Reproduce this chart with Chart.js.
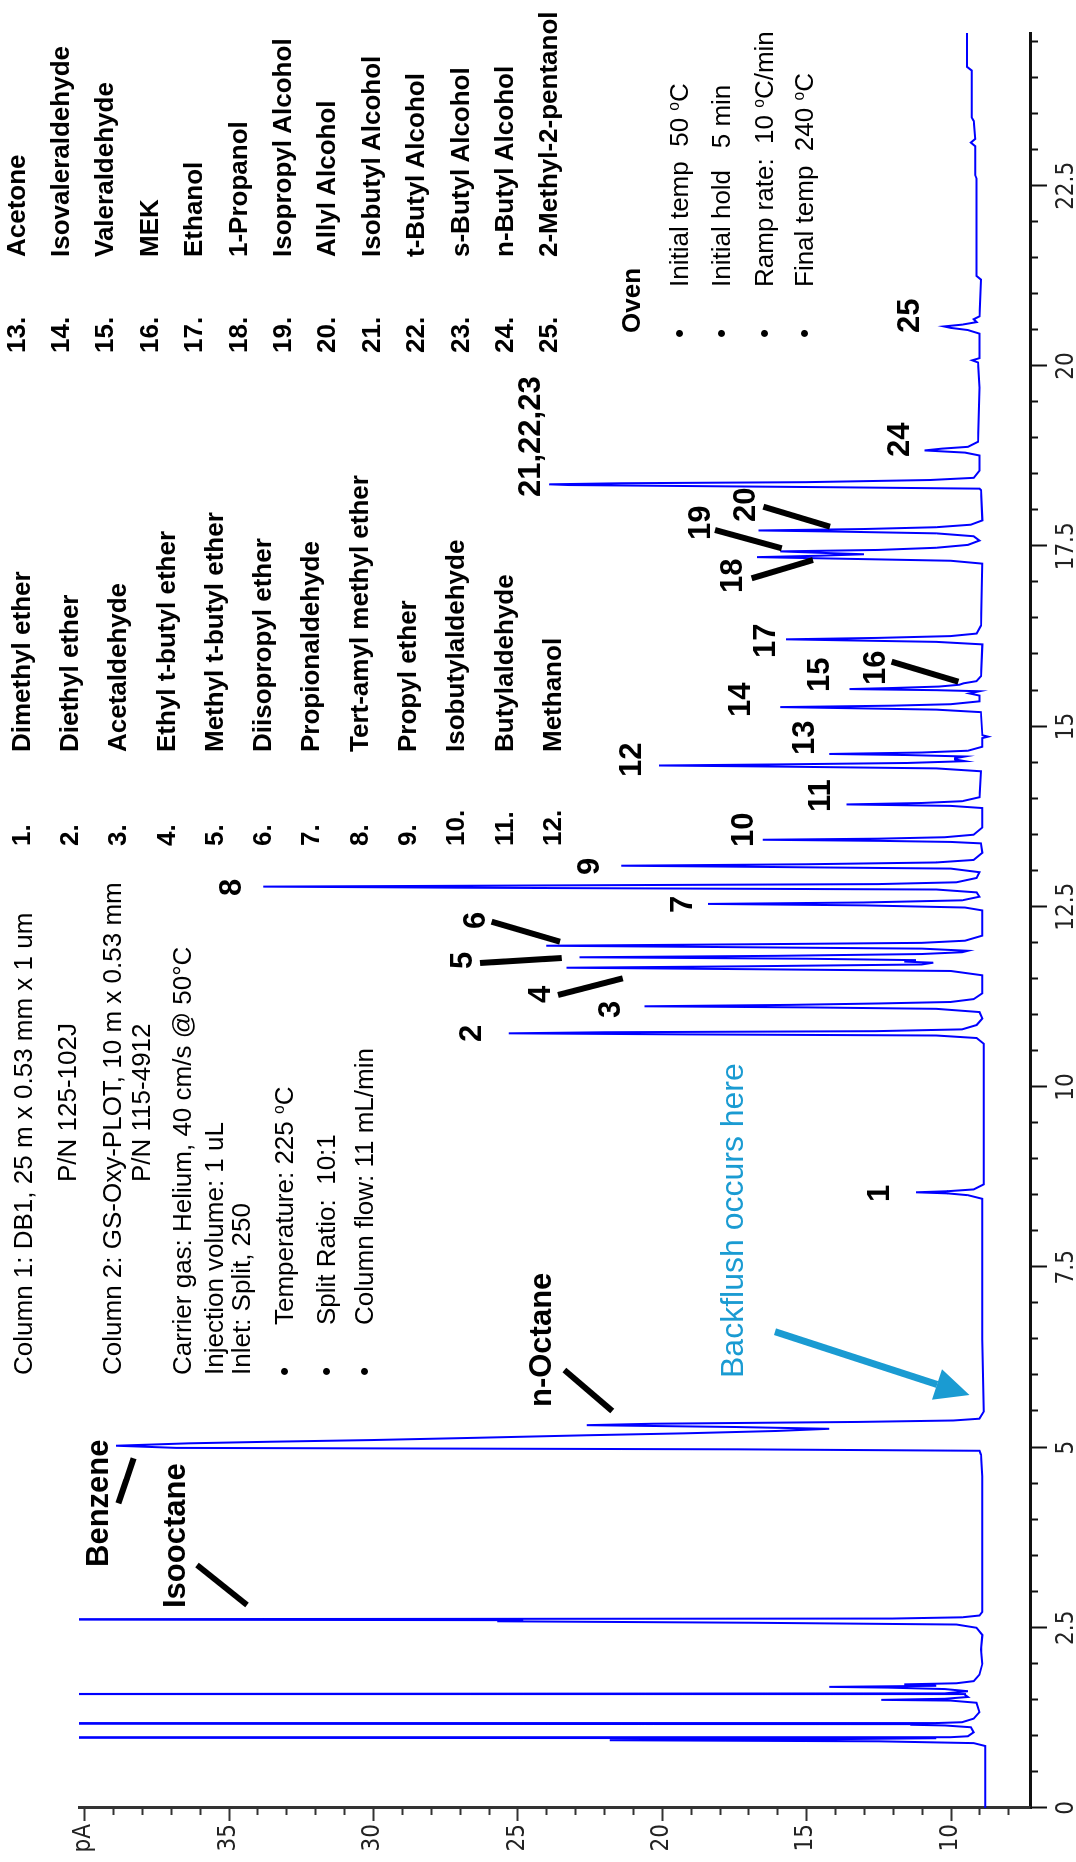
<!DOCTYPE html>
<html>
<head>
<meta charset="utf-8">
<script src="https://cdn.jsdelivr.net/npm/chart.js@4.4.1/dist/chart.umd.min.js"></script>
<style>
html, body { margin: 0; padding: 0; background: #fff; width: 1076px; height: 1862px; overflow: hidden; }
/* the chromatogram is laid out landscape, then turned a quarter turn like the original scan */
#page { position: absolute; left: 0; top: 0; width: 1862px; height: 1076px; transform-origin: 0 0;
        transform: translate(0, 1862px) rotate(-90deg); font-family: "Liberation Sans", Arial, sans-serif; color: #000; }
#page canvas, #page svg { position: absolute; left: 0; top: 0; }
.t { position: absolute; white-space: pre; line-height: 1; }
.b { font-weight: bold; }
.blue { color: #1a9bd2; }
sup { font-size: 0.6em; vertical-align: 0.6em; line-height: 0; }
</style>
</head>
<body>
<div id="page">
  <canvas id="chrom" width="1862" height="1076"></canvas>
  <svg id="marks" width="1862" height="1076"></svg>
</div>
<script>
// ---- trace: [retention time (min), signal (pA)] ----
// light ends + isooctane (column 1 elution)
const segLight = [
    [0, 8.8], [0.86, 8.8], [0.9, 9.2], [0.925, 12.5], [0.94, 21.8], [0.955, 14], [0.968, 10.5],
    [0.975, 48], [0.982, 10], [0.995, 9.4], [1.05, 9.2], [1.12, 9.3], [1.145, 10.2], [1.155, 11.4],
    [1.163, 11.2], [1.17, 48], [1.178, 10.5], [1.19, 9.6], [1.24, 9.2], [1.33, 9.0], [1.46, 9.1],
    [1.49, 10], [1.5, 12.4], [1.515, 10.2], [1.54, 9.4], [1.57, 9.5], [1.58, 48], [1.59, 10.2],
    [1.62, 9.4], [1.65, 10.2], [1.67, 12.2], [1.68, 14.2], [1.695, 10.5], [1.715, 11.6], [1.73, 9.8],
    [1.76, 9.2], [1.85, 9.0], [2.0, 8.9], [2.2, 8.95], [2.4, 8.9], [2.5, 9.1], [2.545, 9.8],
    [2.57, 17], [2.59, 25.7], [2.605, 24.8], [2.617, 48], [2.628, 12], [2.645, 9.6], [2.67, 9.0], [2.72, 8.9]
];
// benzene, n-octane, then flat baseline after the backflush
const segHeavy = [
    [3.2, 8.9], [4.6, 8.9], [4.9, 8.95], [4.955, 9.0],
    [4.975, 17.4], [4.995, 36.8], [5.025, 38.9], [5.058, 36.4], [5.08, 33.6], [5.104, 30.0],
    [5.136, 26.3], [5.17, 22.6], [5.197, 19.2], [5.23, 16.0], [5.26, 14.2], [5.285, 17.5],
    [5.31, 22.6], [5.33, 20.3], [5.355, 13.2], [5.375, 9.9], [5.4, 9.0], [5.5, 8.85],
    [6.5, 8.9], [7.5, 8.9], [8.45, 8.9]
];
// peaks 1 - 9
const segEthers = [
    [8.5, 9.4], [8.525, 10.1], [8.54, 11.2], [8.555, 10.1], [8.58, 9.2], [8.65, 8.85], [9.5, 8.85],
    [10.6, 8.85], [10.68, 9.1], [10.715, 10.5], [10.73, 19], [10.745, 25.3], [10.76, 22], [10.775, 12.6],
    [10.8, 9.6], [10.86, 9.1], [10.95, 8.9], [11.04, 9.0], [11.085, 10.5], [11.105, 15], [11.12, 20.6],
    [11.14, 15.5], [11.16, 12.4], [11.18, 10.0], [11.22, 9.2], [11.3, 8.9], [11.55, 8.9], [11.61, 10],
    [11.635, 17], [11.655, 23.3], [11.675, 17], [11.7, 11], [11.725, 10.6], [11.74, 11.6], [11.76, 11.2],
    [11.78, 15], [11.8, 22.85], [11.82, 16], [11.845, 11], [11.87, 9.6], [11.89, 9.4], [11.92, 11],
    [11.945, 19], [11.96, 24.0], [11.98, 17], [12.0, 11], [12.03, 9.5], [12.1, 8.9], [12.45, 8.9],
    [12.49, 9.5], [12.52, 13], [12.54, 18.4], [12.56, 13], [12.59, 9.6], [12.64, 9.0], [12.7, 9.1],
    [12.74, 10.5], [12.765, 27], [12.78, 33.8], [12.795, 25], [12.815, 12.5], [12.84, 9.8], [12.9, 9.1],
    [12.98, 9.0], [13.03, 10], [13.055, 17], [13.07, 21.4], [13.09, 15], [13.115, 10.5], [13.15, 9.2],
    [13.25, 8.9]
];
// peaks 10 - 17
const segCarbonyls = [
    [13.38, 8.95], [13.4, 10], [13.415, 12.5], [13.43, 16.5], [13.445, 12.5], [13.465, 10.2], [13.5, 9.2],
    [13.6, 8.9], [13.87, 8.9], [13.9, 10], [13.92, 13.6], [13.94, 11], [13.965, 9.6], [14.02, 9.0],
    [14.38, 8.95], [14.42, 10.5], [14.445, 16], [14.46, 20.1], [14.475, 16], [14.495, 11.5], [14.52, 9.5],
    [14.545, 9.85], [14.56, 9.85], [14.585, 9.5], [14.605, 11.5], [14.62, 14.2], [14.64, 11], [14.665, 9.4],
    [14.72, 8.9], [14.84, 8.9], [14.86, 8.7], [14.88, 8.9], [15.2, 8.95], [15.235, 10.5], [15.255, 13.5],
    [15.27, 15.9], [15.29, 12], [15.31, 10], [15.35, 9.0], [15.43, 9.0], [15.46, 9.35], [15.49, 9.0],
    [15.505, 10.5], [15.52, 13.5], [15.535, 12], [15.555, 10.4], [15.58, 9.7], [15.6, 9.55], [15.63, 9.1],
    [15.7, 8.95], [16.14, 8.9], [16.175, 10.5], [16.195, 13.5], [16.21, 15.7], [16.23, 12.5], [16.255, 10],
    [16.29, 9.1], [16.4, 8.95]
];
// peaks 18 - 25 and the tail of the run
const segAlcohols = [
    [17.26, 8.9], [17.3, 10], [17.33, 14], [17.35, 16.7], [17.37, 14.5], [17.39, 13], [17.41, 14.5],
    [17.43, 15.9], [17.45, 12.5], [17.48, 10.5], [17.52, 9.4], [17.58, 9.0], [17.64, 9.2], [17.68, 10.5],
    [17.705, 14], [17.72, 16.65], [17.74, 13], [17.765, 10.5], [17.8, 9.3], [17.86, 8.9], [18.28, 8.95],
    [18.3, 9.0], [18.32, 14.2], [18.35, 23.2], [18.36, 23.9], [18.375, 21.4], [18.39, 15.0], [18.42, 10.7],
    [18.45, 9.2], [18.55, 9.0], [18.76, 9.0], [18.8, 9.5], [18.83, 10.9], [18.855, 10.3], [18.88, 9.4],
    [18.95, 9.05], [19.7, 9.0], [20.05, 9.05], [20.08, 9.25], [20.11, 9.0], [20.45, 9.0], [20.5, 9.4],
    [20.53, 10.0], [20.55, 10.23], [20.575, 9.6], [20.61, 9.1], [20.65, 9.2], [20.69, 9.0], [21.2, 8.95],
    [21.25, 9.1], [22.6, 9.1], [22.65, 9.15], [23.05, 9.15], [23.1, 9.3], [23.15, 9.15], [23.4, 9.2],
    [23.45, 9.27], [24.1, 9.27], [24.15, 9.43], [24.62, 9.43]
];

// axis ranges and tick spacing
const timeRange = [0, 24.62];
const signalRange = [7.25, 40.18];
const timeStep = 0.5, timeLabelEvery = 2.5;
const signalStep = 1, signalLabelEvery = 5;

// peak list
const compoundsA = ['Dimethyl ether', 'Diethyl ether', 'Acetaldehyde', 'Ethyl t-butyl ether',
    'Methyl t-butyl ether', 'Diisopropyl ether', 'Propionaldehyde', 'Tert-amyl methyl ether',
    'Propyl ether', 'Isobutylaldehyde', 'Butylaldehyde', 'Methanol'];
const compoundsB = ['Acetone', 'Isovaleraldehyde', 'Valeraldehyde', 'MEK', 'Ethanol', '1-Propanol',
    'Isopropyl Alcohol', 'Allyl Alcohol', 'Isobutyl Alcohol', 't-Butyl Alcohol', 's-Butyl Alcohol',
    'n-Butyl Alcohol', '2-Methyl-2-pentanol'];

const isMultiple = (v, step) => Math.abs(v / step - Math.round(v / step)) < 1e-6;

// tick marks: long on labelled values, short in between
const tickMarks = {
    id: 'tickMarks',
    afterDraw(chart) {
        const { ctx, scales: { x, y } } = chart;
        ctx.save();
        ctx.lineWidth = 2;
        ctx.strokeStyle = '#111';
        x.ticks.forEach(tk => {
            if (!isMultiple(tk.value, timeStep)) return;
            const px = Math.round(x.getPixelForValue(tk.value)) + 0.5;
            const len = isMultiple(tk.value, timeLabelEvery) ? 17 : 8;
            ctx.beginPath(); ctx.moveTo(px, x.top); ctx.lineTo(px, x.top + len); ctx.stroke();
        });
        ctx.strokeStyle = '#333';
        y.ticks.forEach(tk => {
            if (!isMultiple(tk.value, signalStep)) return;
            const py = Math.round(y.getPixelForValue(tk.value)) + 0.5;
            const len = isMultiple(tk.value, signalLabelEvery) ? 13 : 7;
            ctx.beginPath(); ctx.moveTo(y.right, py); ctx.lineTo(y.right - len, py); ctx.stroke();
        });
        ctx.restore();
    }
};

const tickFont = { family: '"Liberation Sans Narrow", "DejaVu Sans Condensed", "Liberation Sans", sans-serif', size: 24 };
const trace = [...segLight, ...segHeavy, ...segEthers, ...segCarbonyls, ...segAlcohols]
    .map(([t, pA]) => ({ x: t, y: pA }));

new Chart(document.getElementById('chrom'), {
    type: 'line',
    data: {
        datasets: [{
            data: trace,
            borderColor: '#0000ff',
            borderWidth: 2,
            pointRadius: 0,
            tension: 0,
            fill: false
        }]
    },
    options: {
        responsive: false,
        animation: false,
        events: [],
        layout: { padding: { top: 79, right: 33, left: 0, bottom: 0 } },
        plugins: { legend: { display: false }, tooltip: { enabled: false } },
        scales: {
            x: {
                type: 'linear',
                min: timeRange[0], max: timeRange[1],
                grid: { display: false, drawTicks: false },
                border: { display: true, color: '#111', width: 3 },
                ticks: {
                    stepSize: timeStep, autoSkip: false, maxRotation: 0, padding: 22, includeBounds: false,
                    color: '#222', font: tickFont,
                    callback: v => isMultiple(v, timeLabelEvery) ? String(v) : ''
                },
                afterFit: s => { s.height = 46; }
            },
            y: {
                type: 'linear',
                min: signalRange[0], max: signalRange[1],
                grid: { display: false, drawTicks: false },
                border: { display: true, color: '#333', width: 3 },
                ticks: {
                    stepSize: signalStep, autoSkip: false, padding: 16, includeBounds: false,
                    color: '#222', font: tickFont,
                    callback: v => v === 40 ? 'pA' : (isMultiple(v, signalLabelEvery) ? String(v) : '')
                },
                afterFit: s => { s.width = 54; }
            }
        }
    },
    plugins: [tickMarks]
});

// ---- annotations (landscape coordinates: left, cap top) ----
const page = document.getElementById('page');
function addText(html, u, v, size, cls) {
    const d = document.createElement('div');
    d.className = 't ' + (cls || '');
    d.style.left = u + 'px';
    d.style.top = (v - 0.13 * size) + 'px';
    d.style.fontSize = size + 'px';
    d.innerHTML = html;
    page.appendChild(d);
}

compoundsA.forEach((name, i) => {
    addText((i + 1) + '.', 1016, 11 + i * 48.3, 26, 'b');
    addText(name, 1110, 11 + i * 48.3, 26, 'b');
});
compoundsB.forEach((name, i) => {
    addText((i + 13) + '.', 1509, 6 + i * 44.4, 26, 'b');
    addText(name, 1605, 6 + i * 44.4, 26, 'b');
});

// column / inlet conditions
addText('Column 1: DB1, 25 m x 0.53 mm x 1 um', 487, 13, 26);
addText('P/N 125-102J', 680, 57, 26);
addText('Column 2: GS-Oxy-PLOT, 10 m x 0.53 mm', 487, 102, 26);
addText('P/N 115-4912', 680, 131, 26);
addText('Carrier gas: Helium, 40 cm/s @ 50°C', 487, 172, 26);
addText('Injection volume: 1 uL', 487, 204, 26);
addText('Inlet: Split, 250', 487, 231, 26);
[['Temperature: 225 <sup>o</sup>C', 274], ['Split Ratio:  10:1', 316], ['Column flow: 11 mL/min', 354]]
    .forEach(([s, v]) => { addText('•', 486, v, 26); addText(s, 537, v, 26); });

// oven programme
addText('Oven', 1529, 621, 26, 'b');
[['Initial temp  50 <sup>o</sup>C', 669], ['Initial hold   5 min', 711],
 ['Ramp rate:  10 <sup>o</sup>C/min', 754], ['Final temp  240 <sup>o</sup>C', 794]]
    .forEach(([s, v]) => { addText('•', 1524, v, 26); addText(s, 1575, v, 26); });

// peak numbers
const peakTags = [['1', 660, 867], ['2', 820, 459], ['3', 844, 598], ['4', 859, 528], ['5', 893, 450],
    ['6', 933, 463], ['7', 949, 670], ['8', 966, 219], ['9', 987, 577], ['10', 1015, 731],
    ['11', 1050, 808], ['12', 1085, 619], ['13', 1107, 792], ['14', 1145, 728], ['15', 1170, 807],
    ['16', 1177, 863], ['17', 1204, 753], ['18', 1269, 720], ['19', 1322, 688], ['20', 1340, 733],
    ['21,22,23', 1365, 518], ['24', 1405, 887], ['25', 1529, 897]];
peakTags.forEach(([s, u, v]) => addText(s, u, v, 31, 'b'));
addText('Benzene', 295, 86, 31, 'b');
addText('Isooctane', 254, 163, 31, 'b');
addText('n-Octane', 455, 529, 31, 'b');
addText('Backflush occurs here', 484, 720, 32, 'blue');

// leader lines
const svg = document.getElementById('marks');
const NS = 'http://www.w3.org/2000/svg';
function svgEl(tag, attrs) {
    const e = document.createElementNS(NS, tag);
    Object.entries(attrs).forEach(([k, val]) => e.setAttribute(k, val));
    svg.appendChild(e);
    return e;
}
const leaders = [[403.7, 133.7, 358.7, 118.4], [297, 197, 257, 247], [492, 564.4, 451, 612.2],
    [867, 558, 883.7, 622.7], [899, 480, 904, 561.7], [940.3, 491.7, 920.3, 560],
    [1200.3, 891.7, 1180.3, 958.3], [1283.7, 751.7, 1302, 813], [1332, 715, 1313.7, 781.7],
    [1355.3, 763.3, 1335.3, 830]];
leaders.forEach(([x1, y1, x2, y2]) => svgEl('line', { x1, y1, x2, y2, stroke: '#000', 'stroke-width': 6 }));

// backflush arrow
const arrow = { from: [530.3, 775], tip: [467, 969.4], head: 34, half: 16 };
(function () {
    const [x1, y1] = arrow.from, [x2, y2] = arrow.tip;
    const L = Math.hypot(x2 - x1, y2 - y1), ux = (x2 - x1) / L, uy = (y2 - y1) / L;
    const bx = x2 - ux * arrow.head, by = y2 - uy * arrow.head;
    svgEl('line', { x1, y1, x2: bx, y2: by, stroke: '#1a9bd2', 'stroke-width': 7 });
    svgEl('polygon', {
        points: `${x2},${y2} ${bx - uy * arrow.half},${by + ux * arrow.half} ${bx + uy * arrow.half},${by - ux * arrow.half}`,
        fill: '#1a9bd2'
    });
})();
</script>
</body>
</html>
